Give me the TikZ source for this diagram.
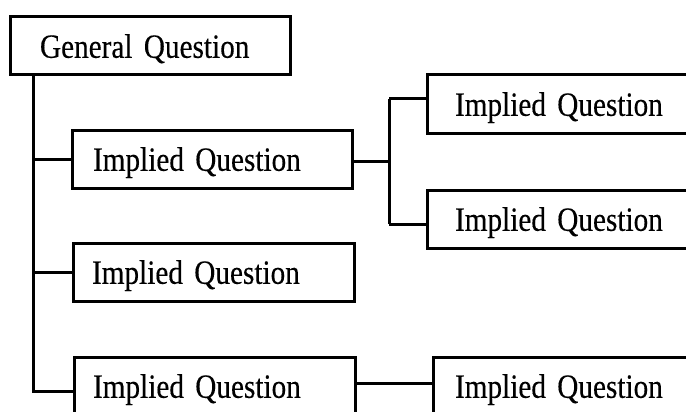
\documentclass[tikz,border=0pt]{standalone}
\usepackage{fontspec}
\setmainfont{Liberation Serif}[FakeStretch=0.86,FakeBold=0.3]
\usetikzlibrary{positioning}

\begin{document}
\begin{tikzpicture}[x=1pt,y=-1pt,line width=3pt,
    qbox/.style={draw,line width=3pt,outer sep=0pt,anchor=north west,align=left,
        minimum height=58pt,inner ysep=0pt,text depth=0pt,font=\fontsize{34}{36}\selectfont}]
            \clip (0,0) rectangle (686,412);
            % cajas: pregunta general y preguntas implicadas
            \node[qbox,inner xsep=30pt,text width=220pt] (gq) at (10,17) {General Question};
            \node[qbox,inner xsep=21pt,text width=238pt] (b1) at (72,130) {Implied Question};
            \node[qbox,inner xsep=19pt,text width=243pt] (b2) at (73,243) {Implied Question};
            \node[qbox,inner xsep=19pt,text width=243pt] (b3) at (74,357) {Implied Question};
            \node[qbox,inner xsep=28pt,text width=214pt] (r1) at (427,75) {Implied Question};
            \node[qbox,inner xsep=28pt,text width=214pt] (r2) at (427,190) {Implied Question};
            \node[qbox,inner xsep=22pt,text width=226pt,anchor=west,right=78pt of b3] (r3) {Implied Question};

            \coordinate (tk) at (33,391);
            \coordinate (fa) at (389,99);
            \coordinate (fk) at (389,161);
            \coordinate (fb) at (389,224);

            \draw (gq.south west -| tk) -- (tk) -- (b3.west |- tk);
            \draw (tk |- b1.west) -- (b1.west);
            \draw (tk |- b2.west) -- (b2.west);
            \draw (b1.east |- fk) -- (fk);
            \draw (fa) -- (fb);
            \draw (fa) -- (r1.west |- fa);
            \draw (fb) -- (r2.west |- fb);
            \draw ([yshift=3pt]b3.east) -- ([yshift=3pt]r3.west);
        \end{tikzpicture}
\end{document}
